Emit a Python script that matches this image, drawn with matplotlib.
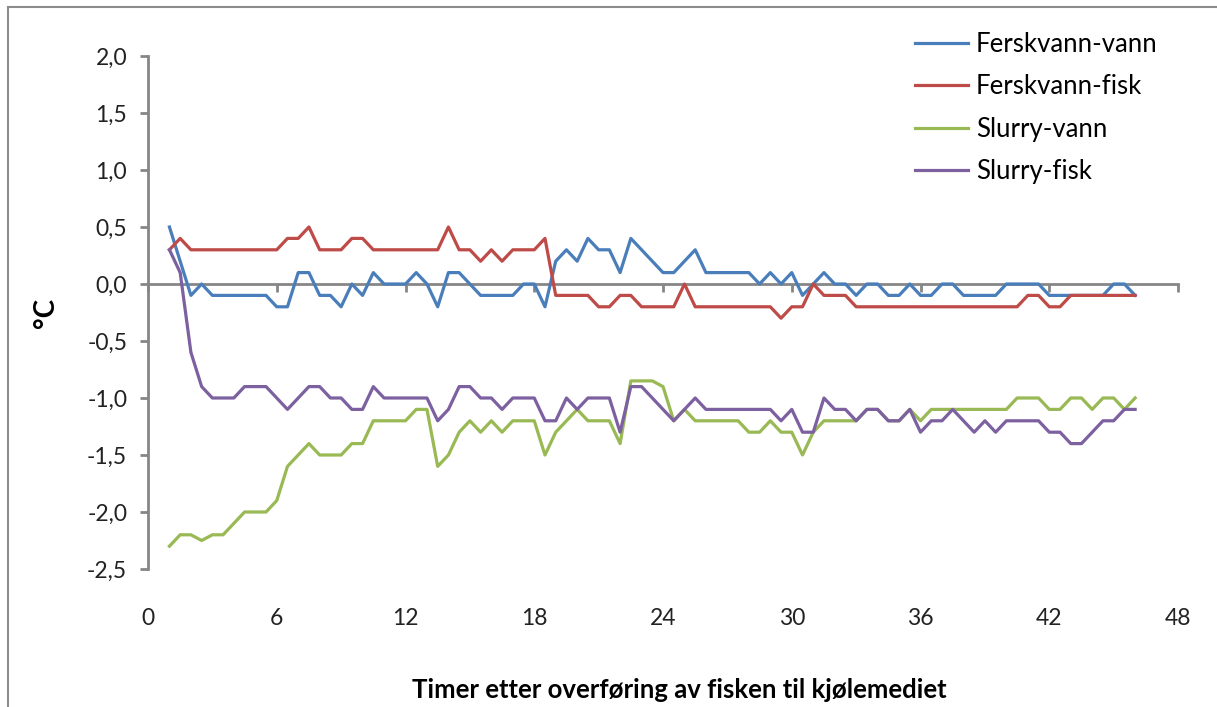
import matplotlib.pyplot as plt
from matplotlib.ticker import FuncFormatter
from matplotlib.patches import Rectangle

plt.rcParams['font.family'] = ['Lato', 'DejaVu Sans']

# Tid (timer), hver halvtime fra 1 til 46
timer = [1 + 0.5 * i for i in range(91)]

ferskvann_vann = [
    0.5, 0.2, -0.1, 0.0, -0.1, -0.1, -0.1, -0.1, -0.1, -0.1,
    -0.2, -0.2, 0.1, 0.1, -0.1, -0.1, -0.2, 0.0, -0.1, 0.1,
    0.0, 0.0, 0.0, 0.1, 0.0, -0.2, 0.1, 0.1, 0.0, -0.1,
    -0.1, -0.1, -0.1, 0.0, 0.0, -0.2, 0.2, 0.3, 0.2, 0.4,
    0.3, 0.3, 0.1, 0.4, 0.3, 0.2, 0.1, 0.1, 0.2, 0.3,
    0.1, 0.1, 0.1, 0.1, 0.1, 0.0, 0.1, 0.0, 0.1, -0.1,
    0.0, 0.1, 0.0, 0.0, -0.1, 0.0, 0.0, -0.1, -0.1, 0.0,
    -0.1, -0.1, 0.0, 0.0, -0.1, -0.1, -0.1, -0.1, 0.0, 0.0,
    0.0, 0.0, -0.1, -0.1, -0.1, -0.1, -0.1, -0.1, 0.0, 0.0,
    -0.1,
]

ferskvann_fisk = [
    0.3, 0.4, 0.3, 0.3, 0.3, 0.3, 0.3, 0.3, 0.3, 0.3,
    0.3, 0.4, 0.4, 0.5, 0.3, 0.3, 0.3, 0.4, 0.4, 0.3,
    0.3, 0.3, 0.3, 0.3, 0.3, 0.3, 0.5, 0.3, 0.3, 0.2,
    0.3, 0.2, 0.3, 0.3, 0.3, 0.4, -0.1, -0.1, -0.1, -0.1,
    -0.2, -0.2, -0.1, -0.1, -0.2, -0.2, -0.2, -0.2, 0.0, -0.2,
    -0.2, -0.2, -0.2, -0.2, -0.2, -0.2, -0.2, -0.3, -0.2, -0.2,
    0.0, -0.1, -0.1, -0.1, -0.2, -0.2, -0.2, -0.2, -0.2, -0.2,
    -0.2, -0.2, -0.2, -0.2, -0.2, -0.2, -0.2, -0.2, -0.2, -0.2,
    -0.1, -0.1, -0.2, -0.2, -0.1, -0.1, -0.1, -0.1, -0.1, -0.1,
    -0.1,
]

slurry_vann = [
    -2.3, -2.2, -2.2, -2.25, -2.2, -2.2, -2.1, -2.0, -2.0, -2.0,
    -1.9, -1.6, -1.5, -1.4, -1.5, -1.5, -1.5, -1.4, -1.4, -1.2,
    -1.2, -1.2, -1.2, -1.1, -1.1, -1.6, -1.5, -1.3, -1.2, -1.3,
    -1.2, -1.3, -1.2, -1.2, -1.2, -1.5, -1.3, -1.2, -1.1, -1.2,
    -1.2, -1.2, -1.4, -0.85, -0.85, -0.85, -0.9, -1.2, -1.1, -1.2,
    -1.2, -1.2, -1.2, -1.2, -1.3, -1.3, -1.2, -1.3, -1.3, -1.5,
    -1.3, -1.2, -1.2, -1.2, -1.2, -1.1, -1.1, -1.2, -1.2, -1.1,
    -1.2, -1.1, -1.1, -1.1, -1.1, -1.1, -1.1, -1.1, -1.1, -1.0,
    -1.0, -1.0, -1.1, -1.1, -1.0, -1.0, -1.1, -1.0, -1.0, -1.1,
    -1.0,
]

slurry_fisk = [
    0.3, 0.1, -0.6, -0.9, -1.0, -1.0, -1.0, -0.9, -0.9, -0.9,
    -1.0, -1.1, -1.0, -0.9, -0.9, -1.0, -1.0, -1.1, -1.1, -0.9,
    -1.0, -1.0, -1.0, -1.0, -1.0, -1.2, -1.1, -0.9, -0.9, -1.0,
    -1.0, -1.1, -1.0, -1.0, -1.0, -1.2, -1.2, -1.0, -1.1, -1.0,
    -1.0, -1.0, -1.3, -0.9, -0.9, -1.0, -1.1, -1.2, -1.1, -1.0,
    -1.1, -1.1, -1.1, -1.1, -1.1, -1.1, -1.1, -1.2, -1.1, -1.3,
    -1.3, -1.0, -1.1, -1.1, -1.2, -1.1, -1.1, -1.2, -1.2, -1.1,
    -1.3, -1.2, -1.2, -1.1, -1.2, -1.3, -1.2, -1.3, -1.2, -1.2,
    -1.2, -1.2, -1.3, -1.3, -1.4, -1.4, -1.3, -1.2, -1.2, -1.1,
    -1.1,
]

serier = ["Ferskvann-vann", "Ferskvann-fisk", "Slurry-vann", "Slurry-fisk"]
farger = ["#4A7EBB", "#BE4B48", "#98B954", "#7D60A0"]

x_ticks = list(range(0, 49, 6))
y_ticks = [-2.5, -2.0, -1.5, -1.0, -0.5, 0.0, 0.5, 1.0, 1.5, 2.0]

fig = plt.figure(figsize=(12.17, 7.07), dpi=100)
ax = fig.add_axes([0.1216, 0.1952, 0.8464, 0.7256])

# ramme rundt hele diagrammet (som i Excel)
fig.patches.append(Rectangle((8 / 1217, -0.05), 1.2, 1.05 - 7 / 707,
                             transform=fig.transFigure, fill=False,
                             edgecolor="#8c8c8c", linewidth=1.5))

for verdier, navn, farge in zip([ferskvann_vann, ferskvann_fisk, slurry_vann, slurry_fisk],
                                serier, farger):
    ax.plot(timer, verdier, color=farge, linewidth=2.3, label=navn)

grey = "#868686"
ax.set_xlim(0, 48)
ax.set_ylim(-2.5, 2.0)

for s in ["top", "right"]:
    ax.spines[s].set_visible(False)
ax.spines["left"].set_color(grey)
ax.spines["left"].set_linewidth(2)
ax.spines["bottom"].set_position(("data", 0))
ax.spines["bottom"].set_color(grey)
ax.spines["bottom"].set_linewidth(2)
ax.spines["bottom"].set_zorder(1)

ax.set_yticks(y_ticks)
ax.yaxis.set_major_formatter(FuncFormatter(lambda v, p: f"{v:.1f}".replace(".", ",")))
ax.tick_params(axis="y", direction="out", length=6, width=2, color=grey,
               labelsize=16.5, labelcolor="#222222", pad=9)

ax.set_xticks(x_ticks)
ax.tick_params(axis="x", direction="out", length=6, width=2, color=grey,
               labelbottom=False)

# tallene på x-aksen står nederst, under plottet
sec = ax.secondary_xaxis("bottom")
sec.set_xticks(x_ticks)
sec.spines["bottom"].set_visible(False)
sec.tick_params(length=0, labelsize=16.5, labelcolor="#222222", pad=28)

ax.set_ylabel("°C", fontsize=20, fontweight="bold", labelpad=20)
fig.text(0.558, 0.024, "Timer etter overføring av fisken til kjølemediet",
         ha="center", va="center", fontsize=18.5, fontweight="bold")

ax.legend(loc="upper left", bbox_to_anchor=(0.745, 1.047), frameon=False,
          borderaxespad=0, borderpad=0,
          fontsize=18.5, handlelength=2.05, handletextpad=0.3, labelspacing=0.68)

plt.savefig("out.png", dpi=100)
